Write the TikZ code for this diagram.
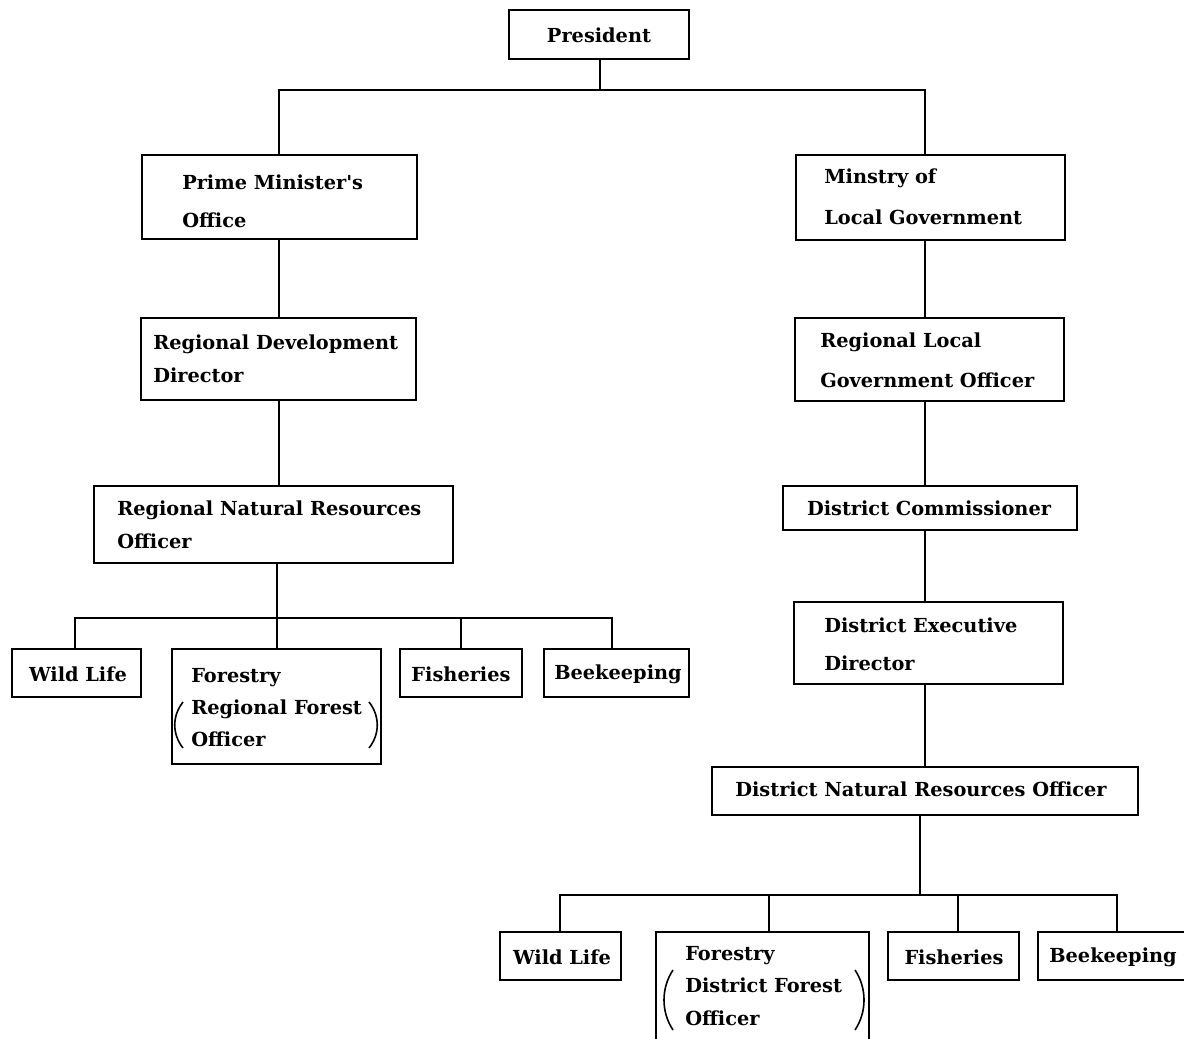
\documentclass[tikz,border=0pt]{standalone}
\usepackage{fontspec}
\newfontfamily\boxfont{DejaVu Serif}[BoldFont={DejaVu Serif Bold}]
\begin{document}
\begin{tikzpicture}[x=0.75pt,y=-0.75pt,
  box/.style={draw=black,line width=2.1pt,minimum width=#1,inner sep=0pt},
  lbl/.style={inner sep=0pt,font=\boxfont\bfseries\fontsize{14.5pt}{#1}\selectfont,align=left},
  lbl/.default=24pt,
  conn/.style={line width=1.5pt},
  paren/.style={line width=1.2pt}]
\useasboundingbox (0,0) rectangle (1184,1038);
% boxes
\node[box=135pt,minimum height=36.75pt] (pres) at (599,34.5) {};
\node[box=206.25pt,minimum height=63pt] (pmo) at (279.5,197) {};
\node[box=201.75pt,minimum height=63.75pt] (mlg) at (930.5,197.5) {};
\node[box=206.25pt,minimum height=61.5pt] (rdd) at (278.5,359) {};
\node[box=201.75pt,minimum height=62.25pt] (rlgo) at (929.5,359.5) {};
\node[box=269.25pt,minimum height=57.75pt] (rnro) at (273.5,524.5) {};
\node[box=220.5pt,minimum height=33pt] (dc) at (930,508) {};
\node[box=201.75pt,minimum height=61.5pt] (ded) at (928.5,643) {};
\node[box=319.5pt,minimum height=36pt] (dnro) at (925,791) {};
\node[box=96.75pt,minimum height=36pt] (wl1) at (76.5,673) {};
\node[box=156.75pt,minimum height=86.25pt] (fo1) at (276.5,706.5) {};
\node[box=91.5pt,minimum height=36pt] (fi1) at (461,673) {};
\node[box=108.75pt,minimum height=36pt] (bk1) at (616.5,673) {};
\node[box=90.75pt,minimum height=36pt] (wl2) at (560.5,956) {};
\node[box=159.75pt,minimum height=87pt] (fo2) at (762.5,990) {};
\node[box=98.25pt,minimum height=36pt] (fi2) at (953.5,956) {};
\node[box=111pt,minimum height=36pt] (bk2) at (1112,956) {};
% labels
\node[lbl] (prest) at (599,35) {President};
\node[lbl=28.5pt,anchor=west] (pmot) at (182,201) {Prime Minister's\\Office};
\node[lbl=30.75pt,anchor=west] (mlgt) at (824,196.5) {Minstry of\\Local Government};
\node[lbl=24.75pt,anchor=west] (rddt) at (153,358.5) {Regional Development\\Director};
\node[lbl=30pt,anchor=west] (rlgot) at (820,360) {Regional Local\\Government Officer};
\node[lbl=24.75pt,anchor=west] (rnrot) at (117,524.5) {Regional Natural Resources\\Officer};
\node[lbl] (dct) at (929,508) {District Commissioner};
\node[lbl=28.5pt,anchor=west] (dedt) at (824,644) {District Executive\\Director};
\node[lbl] (dnrot) at (921,789) {District Natural Resources Officer};
\node[lbl] (wl1t) at (78,674) {Wild Life};
\node[lbl] (fi1t) at (461,674) {Fisheries};
\node[lbl] (bk1t) at (618,674) {Beekeeping};
\node[lbl=24pt,anchor=west] (fo1t) at (191,708) {Forestry\\Regional Forest\\Officer};
\node[lbl] (wl2t) at (562,957) {Wild Life};
\node[lbl] (fi2t) at (954,957) {Fisheries};
\node[lbl] (bk2t) at (1113,957) {Beekeeping};
\node[lbl=24.4pt,anchor=west] (fo2t) at (685,986) {Forestry\\District Forest\\Officer};
% parentheses
\draw[paren] (183,702) .. controls (172,716) and (172,734) .. (183,748);
\draw[paren] (369,702) .. controls (380,716) and (380,734) .. (369,748);
\draw[paren] (673,970) .. controls (661,988) and (661,1012) .. (673,1030);
\draw[paren] (855,970) .. controls (867,988) and (867,1012) .. (855,1030);
% connectors: top
\coordinate (tb) at (600,90);
\coordinate (tl) at (279,90);
\coordinate (tr) at (925,90);
\draw[conn] (pres.south -| tb) -- (tb);
\draw[conn] (tl |- pmo.north) -- (tl) -- (tr) -- (tr |- mlg.north);
% left chain
\draw[conn] (pmo.south -| tl) -- (rdd.north -| tl);
\draw[conn] (rdd.south -| tl) -- (rnro.north -| tl);
\coordinate (ls) at (277,618);
\coordinate (l1) at (75,618);
\coordinate (l3) at (461,618);
\coordinate (l4) at (612,618);
\draw[conn] (rnro.south -| ls) -- (ls);
\draw[conn] (l1 |- wl1.north) -- (l1) -- (l4) -- (l4 |- bk1.north);
\draw[conn] (ls) -- (ls |- fo1.north);
\draw[conn] (l3) -- (l3 |- fi1.north);
% right chain
\draw[conn] (mlg.south -| tr) -- (rlgo.north -| tr);
\draw[conn] (rlgo.south -| tr) -- (dc.north -| tr);
\draw[conn] (dc.south -| tr) -- (ded.north -| tr);
\draw[conn] (ded.south -| tr) -- (dnro.north -| tr);
\coordinate (rs) at (920,895);
\coordinate (r1) at (560,895);
\coordinate (r2) at (769,895);
\coordinate (r3) at (958,895);
\coordinate (r4) at (1117,895);
\draw[conn] (dnro.south -| rs) -- (rs);
\draw[conn] (r1 |- wl2.north) -- (r1) -- (r4) -- (r4 |- bk2.north);
\draw[conn] (r2) -- (r2 |- fo2.north);
\draw[conn] (r3) -- (r3 |- fi2.north);
\end{tikzpicture}
\end{document}
